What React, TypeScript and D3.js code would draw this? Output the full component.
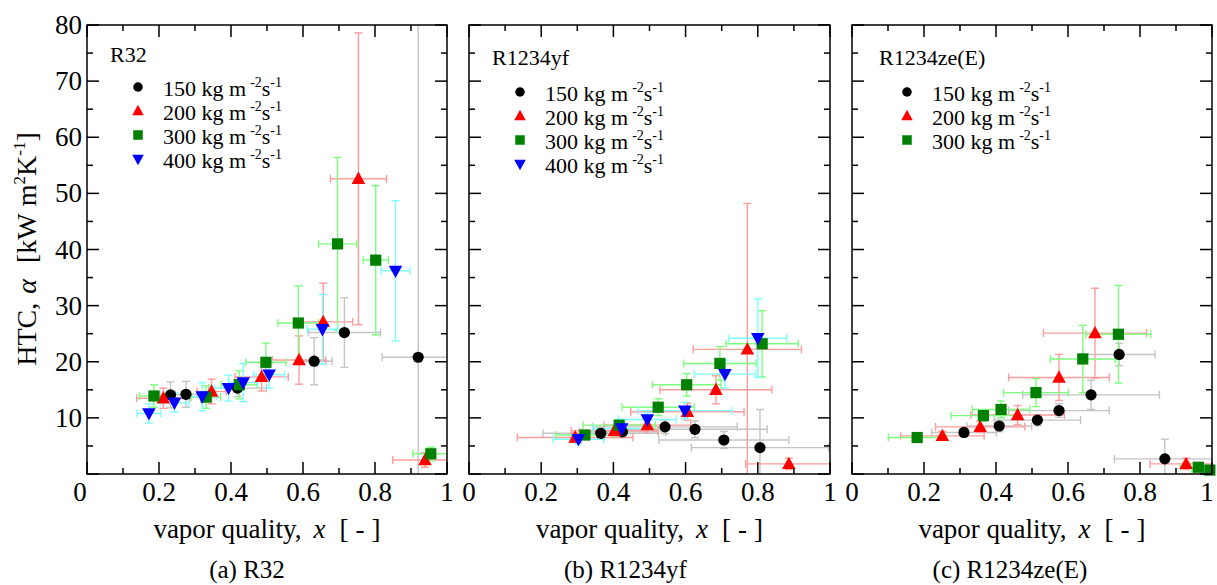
import React from "react";
import * as d3 from "d3";

// ---------- data: [x, HTC, xErr, yErr] ----------
const R32_150 = [[0.232,14.1,0.03,2.3],[0.275,14.2,0.03,2.3],[0.418,15.3,0.08,1.5],[0.631,20.1,0.05,4.2],[0.715,25.2,0.1,6.2],[0.92,20.8,0.1,62]];
const R32_200 = [[0.212,13.5,0.074,1.8],[0.346,14.7,0.04,2.2],[0.485,17.3,0.074,2.5],[0.589,20.3,0.074,4.3],[0.656,27.1,0.082,6.9],[0.754,52.6,0.078,26],[0.939,2.5,0.09,1.3]];
const R32_300 = [[0.186,13.9,0.04,2],[0.331,13.7,0.04,2],[0.423,15.9,0.05,2.5],[0.497,19.9,0.056,3.4],[0.587,26.9,0.057,6.6],[0.696,41,0.053,15.4],[0.802,38.1,0.035,13.3],[0.955,3.6,0.05,1.2]];
const R32_400 = [[0.172,10.8,0.033,1.7],[0.243,12.7,0.04,1.7],[0.32,13.8,0.04,2.5],[0.393,15.3,0.04,2.3],[0.434,16.3,0.04,3.4],[0.506,17.7,0.043,2.4],[0.654,25.8,0.042,6.2],[0.857,36.2,0.04,12.5]];

const YF_150 = [[0.365,7.25,0.16,1.0],[0.425,7.5,0.12,1.0],[0.543,8.4,0.2,1.2],[0.626,7.96,0.2,1.5],[0.706,6.06,0.18,1.5],[0.806,4.7,0.19,6.8]];
const YF_200 = [[0.294,6.5,0.16,0.8],[0.403,7.7,0.12,1],[0.494,8.7,0.12,1.2],[0.605,11.1,0.157,1.5],[0.684,15,0.155,2.5],[0.771,22.2,0.15,26],[0.886,1.8,0.12,1]];
const YF_300 = [[0.321,6.95,0.08,0.8],[0.416,8.7,0.1,1],[0.524,11.9,0.1,1.5],[0.603,15.9,0.095,2],[0.695,19.7,0.1,3],[0.812,23.2,0.1,5.9]];
const YF_400 = [[0.303,6.2,0.07,0.8],[0.423,8.1,0.08,1],[0.494,9.7,0.08,1.2],[0.598,11.3,0.13,1.5],[0.709,17.8,0.085,2.5],[0.8,24.2,0.08,7]];

const ZE_150 = [[0.311,7.4,0.09,0.8],[0.409,8.55,0.09,1],[0.515,9.6,0.12,1],[0.575,11.3,0.14,1.2],[0.664,14.1,0.19,2.6],[0.742,21.3,0.1,2],[0.869,2.7,0.14,3.5]];
const ZE_200 = [[0.251,6.8,0.116,0.8],[0.356,8.4,0.124,1],[0.46,10.5,0.13,1.7],[0.575,17.2,0.14,4.1],[0.675,25.1,0.143,8],[0.928,1.8,0.1,1]];
const ZE_300 = [[0.181,6.5,0.08,0.8],[0.365,10.4,0.09,1],[0.414,11.5,0.08,1.5],[0.511,14.5,0.09,2.5],[0.641,20.5,0.09,6],[0.74,24.9,0.09,8.7],[0.962,1.2,0.05,0.5],[0.994,0.7,0.05,0.5]];

const MASS_FLUX = ["150", "200", "300", "400"];
const X_TICKS = [0, 0.2, 0.4, 0.6, 0.8, 1];
const X_TICK_LABELS = ["0", "0.2", "0.4", "0.6", "0.8", "1"];
const Y_TICKS = [10, 20, 30, 40, 50, 60, 70, 80];
const PANEL_NAMES = ["R32", "R1234yf", "R1234ze(E)"];
const CAPTIONS = ["(a) R32", "(b) R1234yf", "(c) R1234ze(E)"];
const PANEL_SERIES = [
  [R32_150, R32_200, R32_300, R32_400],
  [YF_150, YF_200, YF_300, YF_400],
  [ZE_150, ZE_200, ZE_300],
];

// ---------- styles ----------
const MARK_COLORS = ["#000000", "#ff0000", "#008000", "#0000ff"];
const ERR_COLORS = ["#c4c4c4", "#ff9c9c", "#7dff7d", "#7fffff"];
const SHAPES = ["circle", "up", "square", "down"];
const FONT = "Liberation Serif, serif";

const PANELS = [
  { left: 87, right: 447, zeroShift: -7, oneShift: 0, legendX: 110, legendTitleY: 62, legendY0: 87, capShift: -20 },
  { left: 469, right: 830, zeroShift: 0, oneShift: 0, legendX: 492, legendTitleY: 65, legendY0: 92, capShift: -24 },
  { left: 852, right: 1212, zeroShift: 0, oneShift: -5, legendX: 879, legendTitleY: 65, legendY0: 92, capShift: -22 },
];
const TOP = 25;
const BOTTOM = 474;

function Marker({ shape, cx, cy, color, s = 1 }: any) {
  if (shape === "circle") return <circle cx={cx} cy={cy} r={5.6 * s} fill={color} />;
  if (shape === "square") {
    const h = 5.6 * s;
    return <rect x={cx - h} y={cy - h} width={2 * h} height={2 * h} fill={color} />;
  }
  const w = 6.8 * s;
  const hh = 6.2 * s;
  if (shape === "up")
    return <path d={`M${cx},${cy - hh - 1}L${cx + w},${cy + hh - 1}L${cx - w},${cy + hh - 1}Z`} fill={color} />;
  return <path d={`M${cx},${cy + hh + 1}L${cx + w},${cy - hh + 1}L${cx - w},${cy - hh + 1}Z`} fill={color} />;
}

function Panel({ idx }: { idx: number }) {
  const p = PANELS[idx];
  const x = d3.scaleLinear().domain([0, 1]).range([p.left, p.right]);
  const y = d3.scaleLinear().domain([0, 80]).range([BOTTOM, TOP]);
  const series = PANEL_SERIES[idx];
  const clipId = `clip${idx}`;
  const cap = 4;
  const xMinor = d3.range(0, 11).map((i) => i / 10);
  const yMinor = d3.range(0, 17).map((i) => i * 5);

  return (
    <g>
      <defs>
        <clipPath id={clipId}>
          <rect x={p.left} y={TOP} width={p.right - p.left} height={BOTTOM - TOP} />
        </clipPath>
      </defs>
      <g clipPath={`url(#${clipId})`} strokeWidth={1.4} fill="none">
        {series.map((data, si) =>
          data.map((d, i) => {
            const cx = x(d[0]);
            const cy = y(d[1]);
            const x0 = x(d[0] - d[2]);
            const x1 = x(d[0] + d[2]);
            const y0 = y(d[1] - d[3]);
            const y1 = y(d[1] + d[3]);
            return (
              <g key={`e${si}-${i}`} stroke={ERR_COLORS[si]}>
                <line x1={x0} x2={x1} y1={cy} y2={cy} />
                <line x1={x0} x2={x0} y1={cy - cap} y2={cy + cap} />
                <line x1={x1} x2={x1} y1={cy - cap} y2={cy + cap} />
                <line x1={cx} x2={cx} y1={y0} y2={y1} />
                <line x1={cx - cap} x2={cx + cap} y1={y0} y2={y0} />
                <line x1={cx - cap} x2={cx + cap} y1={y1} y2={y1} />
              </g>
            );
          })
        )}
      </g>
      {series.map((data, si) =>
        data.map((d, i) => (
          <Marker key={`m${si}-${i}`} shape={SHAPES[si]} cx={x(d[0])} cy={y(d[1])} color={MARK_COLORS[si]} />
        ))
      )}
      <rect x={p.left} y={TOP} width={p.right - p.left} height={BOTTOM - TOP} fill="none" stroke="#000" strokeWidth={1.5} />
      <g stroke="#000" strokeWidth={1.5}>
        {xMinor.map((v, i) => {
          const len = i % 2 === 0 ? 12 : 6;
          return (
            <g key={`xt${i}`}>
              <line x1={x(v)} x2={x(v)} y1={BOTTOM} y2={BOTTOM - len} />
              <line x1={x(v)} x2={x(v)} y1={TOP} y2={TOP + len} />
            </g>
          );
        })}
        {yMinor.map((v, i) => {
          const len = i % 2 === 0 ? 12 : 6;
          return (
            <g key={`yt${i}`}>
              <line x1={p.left} x2={p.left + len} y1={y(v)} y2={y(v)} />
              <line x1={p.right} x2={p.right - len} y1={y(v)} y2={y(v)} />
            </g>
          );
        })}
      </g>
      <g fontFamily={FONT} fontSize={27} fill="#000" textAnchor="middle">
        {X_TICKS.map((v, i) => (
          <text
            key={`xl${i}`}
            x={x(v) + (i === 0 ? p.zeroShift : i === X_TICKS.length - 1 ? p.oneShift : 0)}
            y={501}
          >
            {X_TICK_LABELS[i]}
          </text>
        ))}
      </g>
      {idx === 0 && (
        <g fontFamily={FONT} fontSize={27} fill="#000" textAnchor="end">
          {Y_TICKS.map((v) => (
            <text key={`yl${v}`} x={p.left - 5} y={y(v) + 9}>
              {v}
            </text>
          ))}
        </g>
      )}
      <text x={(p.left + p.right) / 2} y={538} fontFamily={FONT} fontSize={27} textAnchor="middle">
        <tspan>vapor quality,</tspan>
        <tspan dx={12} fontStyle="italic">x</tspan>
        <tspan dx={14}>[</tspan>
        <tspan dx={7}>-</tspan>
        <tspan dx={7}>]</tspan>
      </text>
      <text x={(p.left + p.right) / 2 + p.capShift} y={578} fontFamily={FONT} fontSize={25} textAnchor="middle">
        {CAPTIONS[idx]}
      </text>
      <g fontFamily={FONT} fill="#000">
        <text x={p.legendX} y={p.legendTitleY} fontSize={22}>
          {PANEL_NAMES[idx]}
        </text>
        {series.map((_, si) => {
          const ly = p.legendY0 + si * 24;
          return (
            <g key={`lg${si}`}>
              <Marker shape={SHAPES[si]} cx={p.legendX + 28} cy={ly} color={MARK_COLORS[si]} s={0.85} />
              <text x={p.legendX + 53} y={ly + 9} fontSize={22}>
                {MASS_FLUX[si]} kg m
                <tspan dx={4} dy={-9} fontSize={14}>-2</tspan>
                <tspan dy={9}>s</tspan>
                <tspan dy={-9} fontSize={14}>-1</tspan>
              </text>
            </g>
          );
        })}
      </g>
    </g>
  );
}

export default function App() {
  return (
    <svg width={1217} height={585} style={{ position: "absolute", left: 0, top: 0, background: "#fff" }}>
      <rect width={1217} height={585} fill="#fff" />
      {[0, 1, 2].map((i) => (
        <Panel key={i} idx={i} />
      ))}
      <text transform="translate(36,249) rotate(-90)" fontFamily={FONT} fontSize={28} textAnchor="middle">
        <tspan>HTC,</tspan>
        <tspan dx={9} fontStyle="italic">α</tspan>
        <tspan dx={16}>[kW</tspan>
        <tspan dx={7}>m</tspan>
        <tspan dy={-11} fontSize={17}>2</tspan>
        <tspan dy={11}>K</tspan>
        <tspan dy={-11} fontSize={17}>-1</tspan>
        <tspan dy={11}>]</tspan>
      </text>
    </svg>
  );
}
